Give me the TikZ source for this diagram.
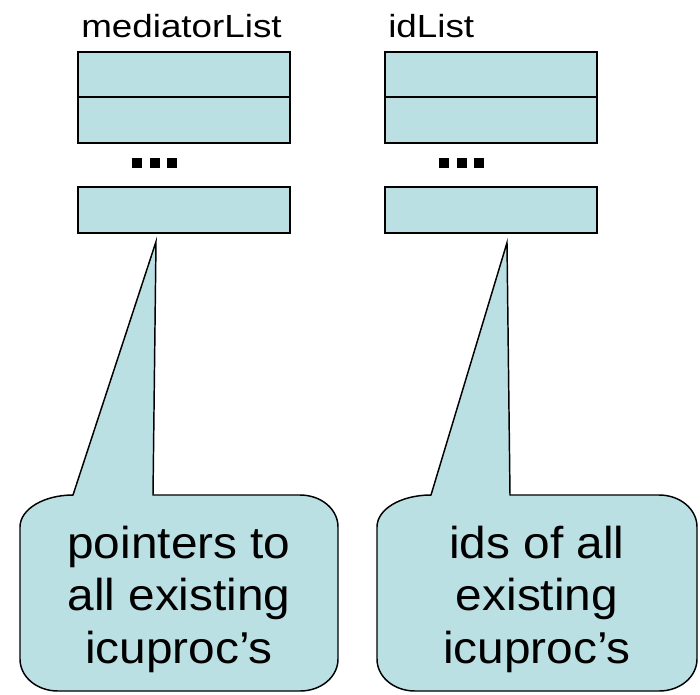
\documentclass[tikz,border=0pt]{standalone}
\usepackage{fontspec}
\setmainfont{Liberation Sans}
\newfontfamily\namefont[FakeStretch=1.15]{Liberation Sans}
\newfontfamily\notefont[FakeStretch=1.07]{Liberation Sans}
\usepackage{xcolor}
\usetikzlibrary{positioning}
\definecolor{cellblue}{RGB}{187,224,227}

\begin{document}
\begin{tikzpicture}[x=0.75pt, y=-0.75pt, every path/.style={line join=miter},%
        cell/.style={draw, line width=1.5pt, fill=cellblue, minimum width=159pt, minimum height=34pt, inner sep=0pt, outer sep=0pt},
        listname/.style={anchor=base west, inner sep=0pt, font=\namefont\fontsize{24}{28}\selectfont},
        callout/.style={draw, line width=1.1pt, fill=cellblue},
        notetext/.style={align=center, inner sep=0pt, font=\notefont\fontsize{33.5}{39.4}\selectfont}]
    \useasboundingbox (0,0) rectangle (700,694);

    % the two lists
    \node[cell] (m1) at (184,74.5) {};
    \node[cell, below=0pt of m1] (m2) {};
    \node[cell] (m3) at (184,210) {};
    \node[cell] (r1) at (491,74.5) {};
    \node[cell, below=0pt of r1] (r2) {};
    \node[cell] (r3) at (491,210) {};

    \node[listname] (mname) at (81,37) {mediatorList};
    \node[listname] (rname) at (388,37) {idList};

    % the dots between the cells
    \foreach \i in {0,1,2} {
        \fill (132+17.5*\i,158) rectangle ++(10,10);
        \fill (439+17.5*\i,158) rectangle ++(10,10);
    }

    \coordinate (mtip) at ([xshift=-21pt, yshift=-6.75pt]m3.south);
    \coordinate (rtip) at ([xshift=12pt, yshift=-7.5pt]r3.south);

    % callouts
    \draw[callout] (73,495) -- (mtip) -- (153,495) -- (300,495)
        .. controls (321,495) and (338,509) .. (338,527) -- (338,659)
        .. controls (338,677) and (321,691) .. (300,691) -- (58,691)
        .. controls (37,691) and (20,677) .. (20,659) -- (20,527)
        .. controls (20,509) and (44,495) .. (73,495) -- cycle;
    \draw[callout] (431,495) -- (rtip) -- (510,495) -- (659,495)
        .. controls (680,495) and (697,509) .. (697,527) -- (697,659)
        .. controls (697,677) and (680,691) .. (659,691) -- (415,691)
        .. controls (394,691) and (377,677) .. (377,659) -- (377,527)
        .. controls (377,509) and (401,495) .. (431,495) -- cycle;

    \node[notetext] (mnote) at (179,599) {pointers to\\all existing\\icuproc’s};
    \node[notetext] (rnote) at (537,599) {ids of all\\existing\\icuproc’s};
\end{tikzpicture}
\end{document}
